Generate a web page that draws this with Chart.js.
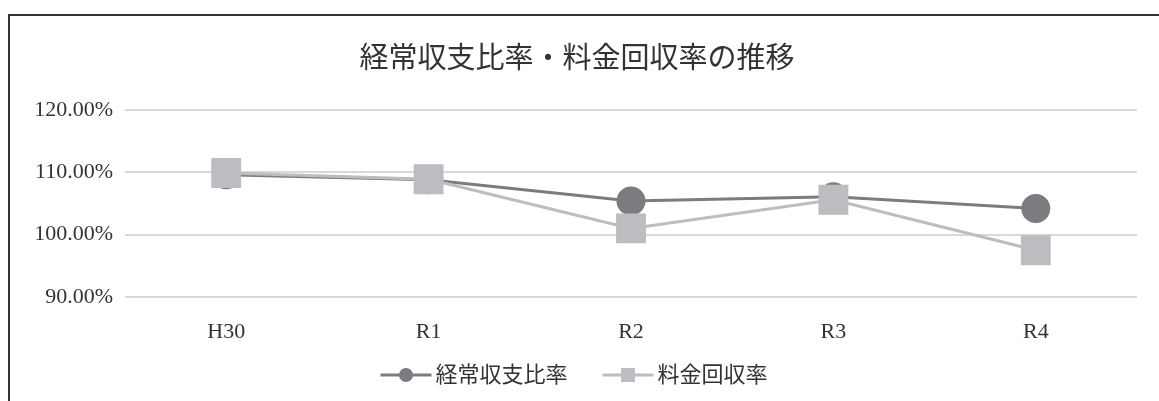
<!DOCTYPE html>
<html>
<head>
<meta charset="utf-8">
<script src="https://cdn.jsdelivr.net/npm/chart.js@4"></script>
<style>
	html, body { margin: 0; padding: 0; background: #fff; overflow: hidden; }
	#wrap { position: relative; width: 1159px; height: 401px; }
	#frame { position: absolute; left: 8px; top: 14px; width: 1300px; height: 500px; border-left: 2px solid #333; border-top: 2px solid #333; }
	#chart { position: absolute; left: 0; top: 0; }
</style>
</head>
<body>
<div id="wrap">
	<div id="frame"></div>
	<canvas id="chart" width="1159" height="401"></canvas>
</div>
<script>
var labels = ['H30', 'R1', 'R2', 'R3', 'R4'];
var keijoValues = [109.6, 108.8, 105.4, 106.1, 104.2];
var ryokinValues = [109.9, 108.9, 101.0, 105.6, 97.5];
var seriesNames = ['経常収支比率', '料金回収率'];
var chartTitle = '経常収支比率・料金回収率の推移';

var FONT = "'Liberation Serif', 'Noto Sans CJK JP', serif";
var DARK = '#7b7c80';
var LIGHT = '#bcbdc0';

function renderRateChart() {
	var ctx = document.getElementById('chart').getContext('2d');

	window.rateChart = new Chart(ctx, {
		type: 'line',
		data: {
			labels: labels,
			datasets: [{
				label: seriesNames[0],
				data: keijoValues,
				borderColor: DARK,
				backgroundColor: DARK,
				pointBackgroundColor: DARK,
				pointBorderColor: DARK,
				borderWidth: 3,
				pointStyle: 'circle',
				pointRadius: 13,
				order: 2
			}, {
				label: seriesNames[1],
				data: ryokinValues,
				borderColor: LIGHT,
				backgroundColor: LIGHT,
				pointBackgroundColor: LIGHT,
				pointBorderColor: LIGHT,
				borderWidth: 3,
				pointStyle: 'rect',
				pointRadius: 19,
				order: 1
			}]
		},
		options: {
			responsive: false,
			animation: false,
			layout: { padding: { left: 0, right: 19, top: 110, bottom: 0 } },
			scales: {
				x: {
					offset: true,
					grid: { display: false },
					border: { display: false },
					ticks: { color: '#333', font: { family: FONT, size: 22 }, padding: 14 },
					afterFit: function (scale) { scale.height = 104; }
				},
				y: {
					min: 90,
					max: 120,
					border: { display: false },
					grid: { color: '#d9d9d9', lineWidth: 2, drawTicks: false },
					ticks: {
						stepSize: 10,
						color: '#333',
						padding: 12,
						font: { family: FONT, size: 22 },
						callback: function (value) { return value.toFixed(2) + '%'; }
					},
					afterFit: function (scale) { scale.width = 125; }
				}
			},
			plugins: {
				legend: { display: false },
				title: { display: false },
				tooltip: { enabled: false }
			}
		},
		plugins: [{
			id: 'titleAndLegend',
			afterDraw: function (chart) {
				var c = chart.ctx;
				c.save();
				c.fillStyle = '#333';
				c.textAlign = 'center';
				c.textBaseline = 'middle';
				c.font = '29px ' + FONT;
				c.fillText(chartTitle, 577, 60);

				// legend: line + marker + text
				c.font = '22px ' + FONT;
				c.textAlign = 'left';
				var lineLen = 51, gap = 4, itemGap = 35;
				var sets = chart.data.datasets;
				var total = 0;
				sets.forEach(function (ds, i) {
					total += lineLen + gap + c.measureText(ds.label).width;
					if (i < sets.length - 1) total += itemGap;
				});
				var x = 574 - total / 2;
				var y = 375;
				sets.forEach(function (ds) {
					c.strokeStyle = ds.borderColor;
					c.fillStyle = ds.borderColor;
					c.lineWidth = 3;
					c.beginPath();
					c.moveTo(x, y);
					c.lineTo(x + lineLen, y);
					c.stroke();
					var mx = x + lineLen / 2;
					if (ds.pointStyle === 'rect') {
						c.fillRect(mx - 7, y - 7, 14, 14);
					} else {
						c.beginPath();
						c.arc(mx, y, 7, 0, Math.PI * 2);
						c.fill();
					}
					x += lineLen + gap;
					c.fillStyle = '#333';
					c.fillText(ds.label, x, y + 1);
					x += c.measureText(ds.label).width + itemGap;
				});
				c.restore();
			}
		}]
	});
}

renderRateChart();
</script>
</body>
</html>
